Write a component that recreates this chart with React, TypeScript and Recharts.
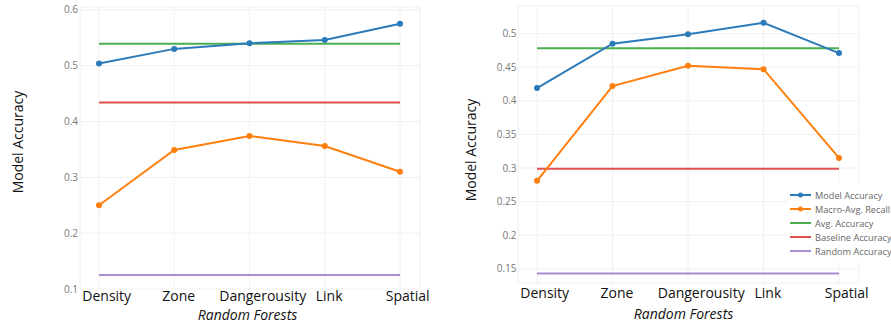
import { CartesianGrid, Legend, Line, LineChart, XAxis, YAxis } from "recharts";

const categories = ["Density", "Zone", "Dangerousity", "Link", "Spatial"];
const seriesNames = ["Model Accuracy", "Macro-Avg. Recall", "Avg. Accuracy", "Baseline Accuracy", "Random Accuracy"];
const seriesColors = ["#2b7bba", "#ff7f0e", "#4bae4f", "#e0504e", "#a98bd2"];

// left panel
const leftModel = [0.504, 0.53, 0.54, 0.546, 0.575];
const leftRecall = [0.25, 0.349, 0.374, 0.356, 0.31];
const leftAvg = [0.539, 0.539, 0.539, 0.539, 0.539];
const leftBaseline = [0.434, 0.434, 0.434, 0.434, 0.434];
const leftRandom = [0.125, 0.125, 0.125, 0.125, 0.125];
const leftTicks = [0.1, 0.2, 0.3, 0.4, 0.5, 0.6];

// right panel
const rightModel = [0.419, 0.485, 0.499, 0.516, 0.471];
const rightRecall = [0.281, 0.422, 0.452, 0.447, 0.315];
const rightAvg = [0.478, 0.478, 0.478, 0.478, 0.478];
const rightBaseline = [0.299, 0.299, 0.299, 0.299, 0.299];
const rightRandom = [0.143, 0.143, 0.143, 0.143, 0.143];
const rightTicks = [0.15, 0.2, 0.25, 0.3, 0.35, 0.4, 0.45, 0.5];

const FONT = "'Open Sans', sans-serif";

function buildRows(series: number[][]) {
  return categories.map((name, i) => ({
    name,
    model: series[0][i],
    recall: series[1][i],
    avg: series[2][i],
    base: series[3][i],
    rand: series[4][i],
  }));
}

function CategoryTick({ x, y, payload }: any) {
  const label = String(payload.value);
  return (
    <text x={x} y={y} dx={label.length * 1.1} dy={11} textAnchor="middle" fill="#111" fontSize={14} fontFamily={FONT}>
      {label}
    </text>
  );
}

function LegendBox() {
  return (
    <div style={{ background: "#fff", padding: "5px 0 4px 2px", fontFamily: FONT, fontSize: 9.2, color: "#666", whiteSpace: "nowrap" }}>
      {seriesNames.map((n, i) => (
        <div key={n} style={{ display: "flex", alignItems: "center", height: 14 }}>
          <svg width={21} height={14}>
            <line x1={0} x2={21} y1={7} y2={7} stroke={seriesColors[i]} strokeWidth={2} />
            {i < 2 && <circle cx={10.5} cy={7} r={2.5} fill={seriesColors[i]} />}
          </svg>
          <span style={{ marginLeft: 4 }}>{n}</span>
        </div>
      ))}
    </div>
  );
}

type PanelProps = {
  series: number[][];
  ticks: number[];
  domain: [number, number];
  width: number;
  top: number;
  right: number;
  yAxisWidth: number;
  xAxisHeight: number;
  tickGap: number;
  xTickMargin: number;
  yTitle: { x: number; y: number };
  xTitle: { dx: number; y: number };
  legend?: boolean;
};

function Panel(p: PanelProps) {
  const data = buildRows(p.series);
  const keys = ["avg", "base", "rand", "model", "recall"];
  const colorFor: Record<string, string> = {
    model: seriesColors[0],
    recall: seriesColors[1],
    avg: seriesColors[2],
    base: seriesColors[3],
    rand: seriesColors[4],
  };
  return (
    <LineChart width={p.width} height={324} data={data} margin={{ top: p.top, right: p.right, bottom: 0, left: 0 }}>
      <CartesianGrid stroke="#f0f0f0" strokeWidth={1} />
      <XAxis
        dataKey="name"
        axisLine={false}
        tickLine={false}
        tickSize={0}
        tickMargin={p.xTickMargin}
        height={p.xAxisHeight}
        padding={{ left: 19, right: 20 }}
        interval={0}
        tick={<CategoryTick />}
        label={{
          content: ({ viewBox }: any) => (
            <text
              x={viewBox.x + viewBox.width / 2 + p.xTitle.dx}
              y={p.xTitle.y}
              textAnchor="middle"
              fontStyle="italic"
              fontSize={14}
              fontFamily={FONT}
              fill="#111"
            >
              Random Forests
            </text>
          ),
        }}
      />
      <YAxis
        type="number"
        domain={p.domain}
        ticks={p.ticks}
        allowDataOverflow
        axisLine={false}
        tickLine={false}
        tickSize={0}
        tickMargin={p.tickGap}
        width={p.yAxisWidth}
        tick={{ fontSize: 10, fill: "#777", fontFamily: FONT }}
        label={{
          content: () => (
            <text
              transform={`translate(${p.yTitle.x},${p.yTitle.y}) rotate(-90)`}
              textAnchor="middle"
              fontSize={14}
              fontFamily={FONT}
              fill="#111"
            >
              Model Accuracy
            </text>
          ),
        }}
      />
      {p.legend && (
        <Legend
          layout="horizontal"
          verticalAlign="middle"
          align="center"
          wrapperStyle={{ left: 343, top: 183, width: "auto", height: "auto" }}
          content={() => <LegendBox />}
        />
      )}
      {keys.map((k) => (
        <Line
          key={k}
          type="linear"
          dataKey={k}
          stroke={colorFor[k]}
          strokeWidth={2}
          dot={k === "model" || k === "recall" ? { r: 3, fill: colorFor[k], strokeWidth: 0 } : false}
          activeDot={false}
          isAnimationActive={false}
        />
      ))}
    </LineChart>
  );
}

export default function App() {
  return (
    <div style={{ position: "absolute", left: 0, top: 0, width: 891, height: 324, background: "#fff", overflow: "hidden" }}>
      <div style={{ position: "absolute", left: 0, top: 0 }}>
        <Panel
          series={[leftModel, leftRecall, leftAvg, leftBaseline, leftRandom]}
          ticks={leftTicks}
          domain={[0.1, 0.605]}
          width={445}
          top={7}
          right={25}
          yAxisWidth={80}
          xAxisHeight={35}
          tickGap={2}
          xTickMargin={1}
          yTitle={{ x: 23, y: 142 }}
          xTitle={{ dx: -2.5, y: 320 }}
        />
      </div>
      <div style={{ position: "absolute", left: 445, top: 0 }}>
        <Panel
          series={[rightModel, rightRecall, rightAvg, rightBaseline, rightRandom]}
          ticks={rightTicks}
          domain={[0.129, 0.541]}
          width={446}
          top={6}
          right={32}
          yAxisWidth={73}
          xAxisHeight={41}
          tickGap={1.5}
          xTickMargin={4}
          yTitle={{ x: 31, y: 150 }}
          xTitle={{ dx: -5, y: 319 }}
          legend
        />
      </div>
    </div>
  );
}
